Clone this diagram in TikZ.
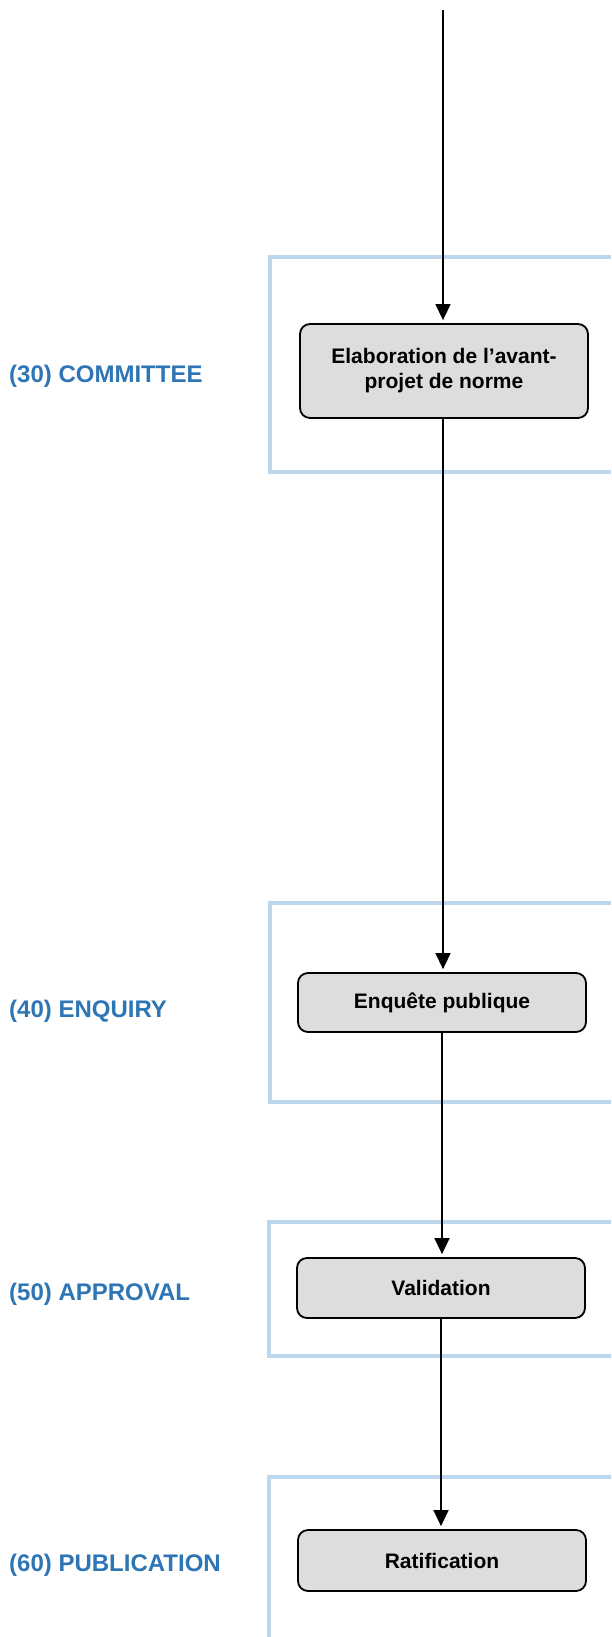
\documentclass[tikz,border=0pt]{standalone}
\usepackage{fontspec}
\setmainfont{Liberation Sans}
\usetikzlibrary{arrows.meta}
\definecolor{framec}{HTML}{BDD7EE}
\definecolor{labelc}{HTML}{2E75B6}
\definecolor{boxfill}{HTML}{DDDDDD}
\begin{document}
\begin{tikzpicture}[x=1pt,y=-1pt,
  stagebox/.style={draw=framec,line width=3.5pt},
  stepnode/.style={draw=black,fill=boxfill,rounded corners=10pt,line width=1.8pt,
    minimum width=288pt,align=center,inner sep=0pt,
    font=\bfseries\fontsize{21}{25}\selectfont},
  phase/.style={text=labelc,font=\bfseries\fontsize{24}{28}\selectfont,
    anchor=base west,inner sep=0pt},
  flow/.style={draw=black,line width=1.5pt,shorten >=3pt,
    -{Triangle[width=15pt,length=16pt]}},
  plain/.style={draw=black,line width=1.5pt}]
\useasboundingbox (0,0) rectangle (611,1637);
\clip (0,0) rectangle (611,1637);
% stage frames
\draw[stagebox] (270,257) rectangle (680,472);
\draw[stagebox] (270,903) rectangle (680,1102);
\draw[stagebox] (269,1222) rectangle (680,1356);
\draw[stagebox] (269,1477) rectangle (680,1720);
% phase labels
\node[phase] (p30) at (9,382) {(30) COMMITTEE};
\node[phase] (p40) at (9,1017) {(40) ENQUIRY};
\node[phase] (p50) at (9,1300) {(50) APPROVAL};
\node[phase] (p60) at (9,1571) {(60) PUBLICATION};
% steps
\node[stepnode,minimum height=94pt] (n1) at (444,371) {Elaboration de l’avant-\\projet de norme};
\node[stepnode,minimum height=59pt] (n2) at (442,1002.5) {Enquête publique};
\node[stepnode,minimum height=60pt] (n3) at (441,1288) {Validation};
\node[stepnode,minimum height=61pt] (n4) at (442,1560.5) {Ratification};
% connectors
\coordinate (start) at (443,10);
\draw[flow] (start) -- (start |- n1.north);
\draw[flow] (n1.south -| start) -- (start |- n2.north);
\draw[flow] (n2.south) -- (n2.south |- n3.north);
\draw[flow] (n3.south) -- (n3.south |- n4.north);
\end{tikzpicture}
\end{document}
